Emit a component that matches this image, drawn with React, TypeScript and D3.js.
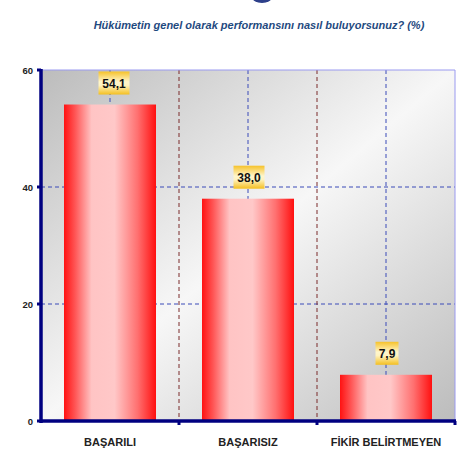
import React from "react";
import * as d3 from "d3";

const categories = ["BAŞARILI", "BAŞARISIZ", "FİKİR BELİRTMEYEN"];
const values = [54.1, 38.0, 7.9];
const valueLabels = ["54,1", "38,0", "7,9"];
const yTicks = [0, 20, 40, 60];
const title = "Hükümetin genel olarak performansını nasıl buluyorsunuz? (%)";

const W = 474;
const H = 466;
const left = 41;
const right = 455;
const top = 70;
const bottom = 421;

export default function App() {
  const x = d3
    .scaleBand<string>()
    .domain(categories)
    .range([left, right])
    .paddingInner(1 / 3)
    .paddingOuter(1 / 6);
  const y = d3.scaleLinear().domain([0, 60]).range([bottom, top]);
  const step = x.step();
  const bounds = categories.map((_, i) => left + step * (i + 1));
  const centers = categories.map((c) => (x(c) as number) + x.bandwidth() / 2);

  return (
    <svg
      width={W}
      height={H}
      style={{ position: "absolute", left: 0, top: 0, background: "#fff" }}
    >
      <defs>
        <linearGradient id="bg" x1="0" y1="0" x2="1" y2="1">
          <stop offset="0" stopColor="#bcbcbc" />
          <stop offset="0.5" stopColor="#f7f7f7" />
          <stop offset="1" stopColor="#bcbcbc" />
        </linearGradient>
        <linearGradient id="bar" x1="0" y1="0" x2="1" y2="0">
          <stop offset="0" stopColor="#ff1212" />
          <stop offset="0.12" stopColor="#ff5555" />
          <stop offset="0.3" stopColor="#ffc4c4" />
          <stop offset="0.55" stopColor="#ffc8c8" />
          <stop offset="0.8" stopColor="#ff7070" />
          <stop offset="1" stopColor="#ff1010" />
        </linearGradient>
        <linearGradient id="lab" x1="0" y1="0" x2="0" y2="1">
          <stop offset="0" stopColor="#f6c22a" />
          <stop offset="0.45" stopColor="#fff6cc" />
          <stop offset="0.6" stopColor="#fff3c0" />
          <stop offset="1" stopColor="#f4bf20" />
        </linearGradient>
      </defs>

      {/* logo fragment */}
      <ellipse cx={262} cy={-3} rx={10} ry={6} fill="#2d3f8a" />

      <text
        x={259}
        y={29}
        textAnchor="middle"
        fontFamily="'Liberation Sans', Arial, sans-serif"
        fontSize={11}
        fontWeight="bold"
        fontStyle="italic"
        fill="#1f4a80"
      >
        {title}
      </text>

      <rect x={left} y={top} width={right - left} height={bottom - top} fill="url(#bg)" />

      {/* horizontal grid */}
      {yTicks
        .filter((t) => t > 0 && t < 60)
        .map((t) => (
          <line
            key={"h" + t}
            x1={left}
            x2={right}
            y1={y(t)}
            y2={y(t)}
            stroke="#3b4ab8"
            strokeWidth={1}
            strokeDasharray="4,3"
          />
        ))}
      {/* vertical center grid */}
      {centers.map((c, i) => (
        <line
          key={"c" + i}
          x1={c}
          x2={c}
          y1={top}
          y2={bottom}
          stroke="#3b4ab8"
          strokeWidth={1}
          strokeDasharray="4,3"
        />
      ))}
      {/* category boundaries */}
      {bounds.slice(0, -1).map((b, i) => (
        <line
          key={"b" + i}
          x1={b}
          x2={b}
          y1={top}
          y2={bottom}
          stroke="#7a2a2a"
          strokeWidth={1}
          strokeDasharray="4,3"
        />
      ))}
      {/* border top/right */}
      <line x1={left} x2={right} y1={top} y2={top} stroke="#9a9af0" strokeWidth={1} />
      <line x1={right} x2={right} y1={top} y2={bottom} stroke="#9a9af0" strokeWidth={1} />

      {/* bars */}
      {categories.map((c, i) => (
        <rect
          key={"bar" + i}
          x={x(c)}
          y={y(values[i])}
          width={x.bandwidth()}
          height={bottom - y(values[i])}
          fill="url(#bar)"
        />
      ))}

      {/* value labels */}
      {categories.map((c, i) => {
        const bw = i === 2 ? 23 : 31;
        const cx = centers[i] + (i === 0 ? 4 : 1);
        const by = y(values[i]) - 33;
        return (
          <g key={"lab" + i}>
            <rect x={cx - bw / 2} y={by} width={bw} height={23} fill="url(#lab)" />
            <text
              x={cx}
              y={by + 16}
              textAnchor="middle"
              fontFamily="'Liberation Sans', Arial, sans-serif"
              fontSize={12}
              fontWeight="bold"
              fill="#111"
            >
              {valueLabels[i]}
            </text>
          </g>
        );
      })}

      {/* axes */}
      <line x1={left} x2={left} y1={top - 1} y2={bottom + 2} stroke="#000080" strokeWidth={3.5} />
      <line x1={left - 1} x2={right + 1} y1={bottom} y2={bottom} stroke="#000080" strokeWidth={3.5} />
      {yTicks.map((t) => (
        <g key={"yt" + t}>
          <line x1={left - 4} x2={left} y1={y(t)} y2={y(t)} stroke="#000080" strokeWidth={3} />
          <text
            x={33}
            y={y(t) + 3.5}
            textAnchor="end"
            fontFamily="'Liberation Sans', Arial, sans-serif"
            fontSize={9.5}
            fontWeight="bold"
            fill="#222"
          >
            {t}
          </text>
        </g>
      ))}
      {bounds.map((b, i) => (
        <line key={"xt" + i} x1={b} x2={b} y1={bottom} y2={bottom + 4} stroke="#000080" strokeWidth={3} />
      ))}
      {categories.map((c, i) => (
        <text
          key={"xl" + i}
          x={centers[i]}
          y={446}
          textAnchor="middle"
          fontFamily="'Liberation Sans', Arial, sans-serif"
          fontSize={11}
          fontWeight="bold"
          fill="#222"
        >
          {c}
        </text>
      ))}
    </svg>
  );
}
